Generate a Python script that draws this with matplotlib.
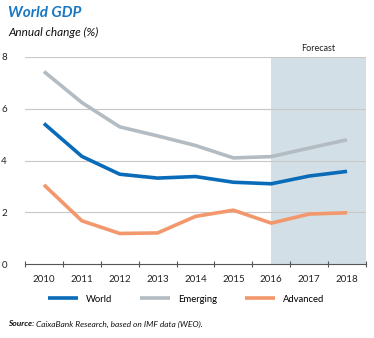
import matplotlib
matplotlib.use("Agg")
import matplotlib.pyplot as plt
import numpy as np

plt.rcParams['font.family'] = ['Lato', 'DejaVu Sans']

years = [2010, 2011, 2012, 2013, 2014, 2015, 2016, 2017, 2018]
world = [5.43, 4.16, 3.47, 3.32, 3.38, 3.16, 3.10, 3.40, 3.58]
emerging = [7.44, 6.24, 5.30, 4.95, 4.58, 4.10, 4.15, 4.48, 4.80]
advanced = [3.06, 1.67, 1.18, 1.20, 1.84, 2.08, 1.58, 1.93, 1.98]
forecast_start = 2016
y_ticks = [0, 2, 4, 6, 8]

c_world = '#0a6cb8'
c_emerging = '#b3bcc2'
c_advanced = '#f3976c'
c_shade = '#d3dfe6'

fig = plt.figure(figsize=(3.74, 3.38), dpi=100)
ax = fig.add_axes([25/374, 74/338, (366-25)/374, (264-57)/338])

x = np.arange(len(years))
fs_idx = years.index(forecast_start)
ax.axvspan(fs_idx, len(years) - 0.5, color=c_shade, lw=0, zorder=0)

for v in y_ticks[1:]:
    ax.axhline(v, color='#c8c8c8', lw=0.8, zorder=1)

ax.plot(x, world, color=c_world, lw=2.6, label='World', zorder=3, solid_capstyle='butt')
ax.plot(x, emerging, color=c_emerging, lw=2.6, label='Emerging', zorder=3, solid_capstyle='butt')
ax.plot(x, advanced, color=c_advanced, lw=2.6, label='Advanced', zorder=3, solid_capstyle='butt')

ax.set_xlim(-0.5, len(years) - 0.5)
ax.set_ylim(0, 8)
ax.set_yticks(y_ticks)
ax.set_yticklabels([str(v) for v in y_ticks], fontsize=7, color='#222222')
ax.tick_params(axis='y', length=0, pad=13)

ax.set_xticks(x)
ax.set_xticklabels([str(y) for y in years], fontsize=7, color='#222222')
ax.set_xticks(np.arange(-0.5, len(years)), minor=True)
ax.tick_params(axis='x', which='major', length=0, pad=8)
ax.tick_params(axis='x', which='minor', direction='inout', length=5, width=0.8, color='#555555')

for s in ['left', 'right', 'top']:
    ax.spines[s].set_visible(False)
ax.spines['bottom'].set_color('#555555')
ax.spines['bottom'].set_linewidth(0.8)
ax.set_facecolor('none')

ax.text((fs_idx + len(years) - 0.5) / 2, 8.15, 'Forecast', ha='center', va='bottom',
        fontsize=6.5, color='#222222')

leg = fig.legend(loc='center', bbox_to_anchor=(186/374, (338-299)/338), ncol=3,
                 frameon=False, fontsize=6.8, handlelength=3.2, handletextpad=0.8,
                 columnspacing=3.0)
for line in leg.get_lines():
    line.set_linewidth(2.6)

fig.text(8/374, 1 - 13/338, 'World GDP', fontsize=11, fontweight='bold', fontstyle='italic',
         color='#1a78c2', ha='left', va='center')
fig.text(8/374, 1 - 32/338, 'Annual change (%)', fontsize=8.5, fontstyle='italic',
         color='#111111', ha='left', va='center')

t = fig.text(8/374, 1 - 324/338, 'Source:', fontsize=6, fontweight='bold', fontstyle='italic',
             color='#111111', ha='left', va='center')
fig.canvas.draw()
bb = t.get_window_extent()
fig.text(bb.x1 / fig.bbox.width + 2/374, 1 - 324/338,
         'CaixaBank Research, based on IMF data (WEO).', fontsize=6, fontstyle='italic',
         color='#111111', ha='left', va='center')

fig.savefig('out.png', dpi=100)
